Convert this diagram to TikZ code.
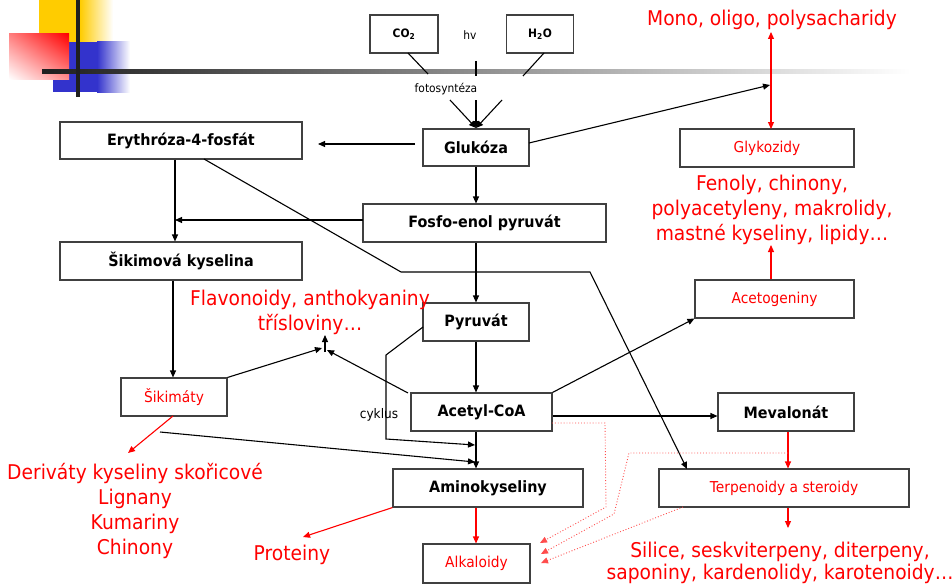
\documentclass[tikz,border=0pt]{standalone}
\usepackage{fontspec}
\setmainfont{DejaVu Sans}[FakeStretch=0.92]
\usetikzlibrary{arrows.meta,shadings}
\definecolor{yel}{HTML}{FFCC00}
\definecolor{blu}{HTML}{3333CC}
\definecolor{rd}{HTML}{FF0000}
\tikzset{
  >={Triangle[length=7pt,width=6pt]},
  box/.style={draw=black!75, line width=1.1pt, minimum height=38pt, inner sep=0pt},
  lbl/.style={font=\fontsize{15.6}{18}\selectfont\bfseries},
  rlbl/.style={text=rd, font=\fontsize{15}{17}\selectfont},
  big/.style={text=rd, align=center, font=\fontsize{20.3}{25}\selectfont, inner sep=0pt},
  small/.style={font=\fontsize{11.6}{13}\selectfont, inner sep=0pt},
  conn/.style={line width=1.1pt, black},
  rconn/.style={line width=1.1pt, rd},
  dconn/.style={line width=0.9pt, rd!70, dotted},
}
\begin{document}
\begin{tikzpicture}[x=1pt,y=-1pt]
\useasboundingbox (0,0) rectangle (952,586);
% decoration
\fill[yel] (39,0) rectangle (80,42);
\shade[left color=yel,right color=white] (80,0) rectangle (113,42);
\fill[blu] (53,42) rectangle (97,92);
\shade[left color=blu,right color=white] (97,42) rectangle (130,92);
\shade[upper right=rd, upper left=rd!50, lower right=rd!45, lower left=white] (9,34) rectangle (69,79);
\shade[left color=black!88,right color=white] (42,69) rectangle (910,73);
\fill[black!88] (76,0) rectangle (80,97);

% nodes
\node[box, minimum width=68pt, font=\fontsize{11.6}{13}\selectfont\bfseries] (co2) at (404,34) {CO\textsubscript{2}};
\node[box, minimum width=67pt, font=\fontsize{11.6}{13}\selectfont\bfseries] (h2o) at (540,34) {H\textsubscript{2}O};
\node[small] (hv) at (470,35) {hv};
\node[small] (foto) at (446,89) {fotosyntéza};
\node[box, lbl, minimum width=106pt, minimum height=37pt] (glu) at (476,147.5) {Glukóza};
\node[box, lbl, minimum width=242pt, minimum height=37pt] (ery) at (181,140.5) {Erythróza-4-fosfát};
\node[box, lbl, minimum width=243pt] (fep) at (484.5,223) {Fosfo-enol pyruvát};
\node[box, lbl, minimum width=242pt] (sik) at (181,261) {Šikimová kyselina};
\node[box, lbl, minimum width=106pt] (pyr) at (476,322) {Pyruvát};
\node[box, lbl, minimum width=141pt] (acet) at (481.5,412) {Acetyl-CoA};
\node[box, rlbl, minimum width=106pt] (sikm) at (174,397) {Šikimáty};
\node[box, lbl, minimum width=190pt] (amino) at (488,488) {Aminokyseliny};
\node[box, rlbl, minimum width=107pt, minimum height=39pt] (alk) at (476.5,563.5) {Alkaloidy};
\node[box, rlbl, minimum width=174pt] (glyk) at (767,148) {Glykozidy};
\node[box, rlbl, minimum width=159pt] (acetog) at (774.5,299) {Acetogeniny};
\node[box, lbl, minimum width=136pt] (meval) at (786,412) {Mevalonát};
\node[box, rlbl, minimum width=250pt] (terp) at (784,488) {Terpenoidy a steroidy};

\node[big] (mono) at (772,20) {Mono, oligo, polysacharidy};
\node[big] (fenoly) at (772,210) {Fenoly, chinony,\\polyacetyleny, makrolidy,\\mastné kyseliny, lipidy…};
\node[big] (flav) at (310,312.5) {Flavonoidy, anthokyaniny\\třísloviny…};
\node[big] (deriv) at (135,511) {Deriváty kyseliny skořicové\\Lignany\\Kumariny\\Chinony};
\node[big] (prot) at (292,555) {Proteiny};
\node[big, font=\fontsize{20.3}{22}\selectfont] (silice) at (780,563) {Silice, seskviterpeny, diterpeny,\\saponiny, kardenolidy, karotenoidy…};
\node[font=\fontsize{13.2}{15}\selectfont, inner sep=0pt] (cyk) at (379,415) {cyklus};

% coordinates
\coordinate (c1a) at (408,53); \coordinate (c1b) at (428,74); \coordinate (c1c) at (450,100);
\coordinate (c2a) at (476,61); \coordinate (c2b) at (476,76); \coordinate (c2c) at (476,100);
\coordinate (c3a) at (544,53); \coordinate (c3b) at (523,76); \coordinate (c3c) at (502,100);
\coordinate (gtip) at (476,128);
\coordinate (e1) at (415,144); \coordinate (e2) at (318,144);
\coordinate (gk1) at (529,143); \coordinate (gk2) at (770,85);
\coordinate (m1) at (771,32); \coordinate (m2) at (771,129);
\coordinate (f1) at (363,220); \coordinate (f2) at (175,220);
\coordinate (d1) at (204,159); \coordinate (d2) at (401,272); \coordinate (d3) at (590,272); \coordinate (d4) at (687,469);
\coordinate (fl1) at (322,348); \coordinate (fl2) at (327,350);
\coordinate (fl3) at (325,352); \coordinate (fl4) at (325,335);
\coordinate (cy1) at (423,327); \coordinate (cy2) at (386,355); \coordinate (cy3) at (386,439); \coordinate (cy4) at (475,445);
\coordinate (s1) at (160,432); \coordinate (s2) at (475,462);
\coordinate (fa) at (771,245);
\coordinate (pr) at (303,537);
\coordinate (dv0) at (173,416); \coordinate (dv) at (128,453);
\coordinate (sl) at (788,528);
\coordinate (a416) at (0,416);
\coordinate (p1) at (552,423); \coordinate (p2) at (605,423); \coordinate (p3) at (606,507); \coordinate (p4) at (540,543);
\coordinate (q1) at (788,453); \coordinate (q2) at (629,453); \coordinate (q3) at (614,514); \coordinate (q4) at (541,554);
\coordinate (r1) at (683,507); \coordinate (r2) at (541,563);

% photosynthesis
\draw[conn] (c1a) -- (c1b); \draw[conn,->] (c1c) -- (gtip);
\draw[conn] (c2a) -- (c2b); \draw[conn,->] (c2c) -- (gtip);
\draw[conn] (c3a) -- (c3b); \draw[conn,->] (c3c) -- (gtip);

% black connectors
\draw[conn,->] (e1) -- (e2);
\draw[conn,->] (gk1) -- (gk2);
\draw[conn,->] (glu.south) -- (glu.south |- fep.north);
\draw[conn,->] (f1) -- (f2);
\draw[conn,->] (ery.south -| f2) -- (sik.north -| f2);
\draw[conn,->] (d1) -- (d2) -- (d3) -- (d4);
\draw[conn,->] (glu.south |- fep.south) -- (pyr.north);
\draw[conn,->] (sik.south -| dv0) -- (sikm.north -| dv0);
\draw[conn,->] (pyr.south) -- (pyr.south |- acet.north);
\draw[conn,->] (sikm.north east) -- (fl1);
\draw[conn,->] (408,393) -- (fl2);
\draw[conn,->] (fl3) -- (fl4);
\draw[conn,->] (cy1) -- (cy2) -- (cy3) -- (cy4);
\draw[conn,->] (s1) -- (s2);
\draw[conn,->] (pyr.south |- acet.south) -- (pyr.south |- amino.north);
\draw[conn,->] (acet.north east) -- (acetog.south west);
\draw[conn,->] (acet.east |- a416) -- (meval.west |- a416);

% red connectors
\draw[rconn,<->] (m1) -- (m2);
\draw[rconn,->] (acetog.north -| fa) -- (fa);
\draw[rconn,->] (meval.south -| sl) -- (terp.north -| sl);
\draw[rconn,->] (terp.south -| sl) -- (sl);
\draw[rconn,->] (pyr.south |- amino.south) -- (pyr.south |- alk.north);
\draw[rconn,->] (amino.south west) -- (pr);
\draw[rconn,->] (dv0) -- (dv);

% dotted
\draw[dconn,-{Triangle[length=7pt,width=6pt]}] (p1) -- (p2) -- (p3) -- (p4);
\draw[dconn,-{Triangle[length=7pt,width=6pt]}] (q1) -- (q2) -- (q3) -- (q4);
\draw[dconn,-{Triangle[length=7pt,width=6pt]}] (r1) -- (r2);
\end{tikzpicture}
\end{document}
